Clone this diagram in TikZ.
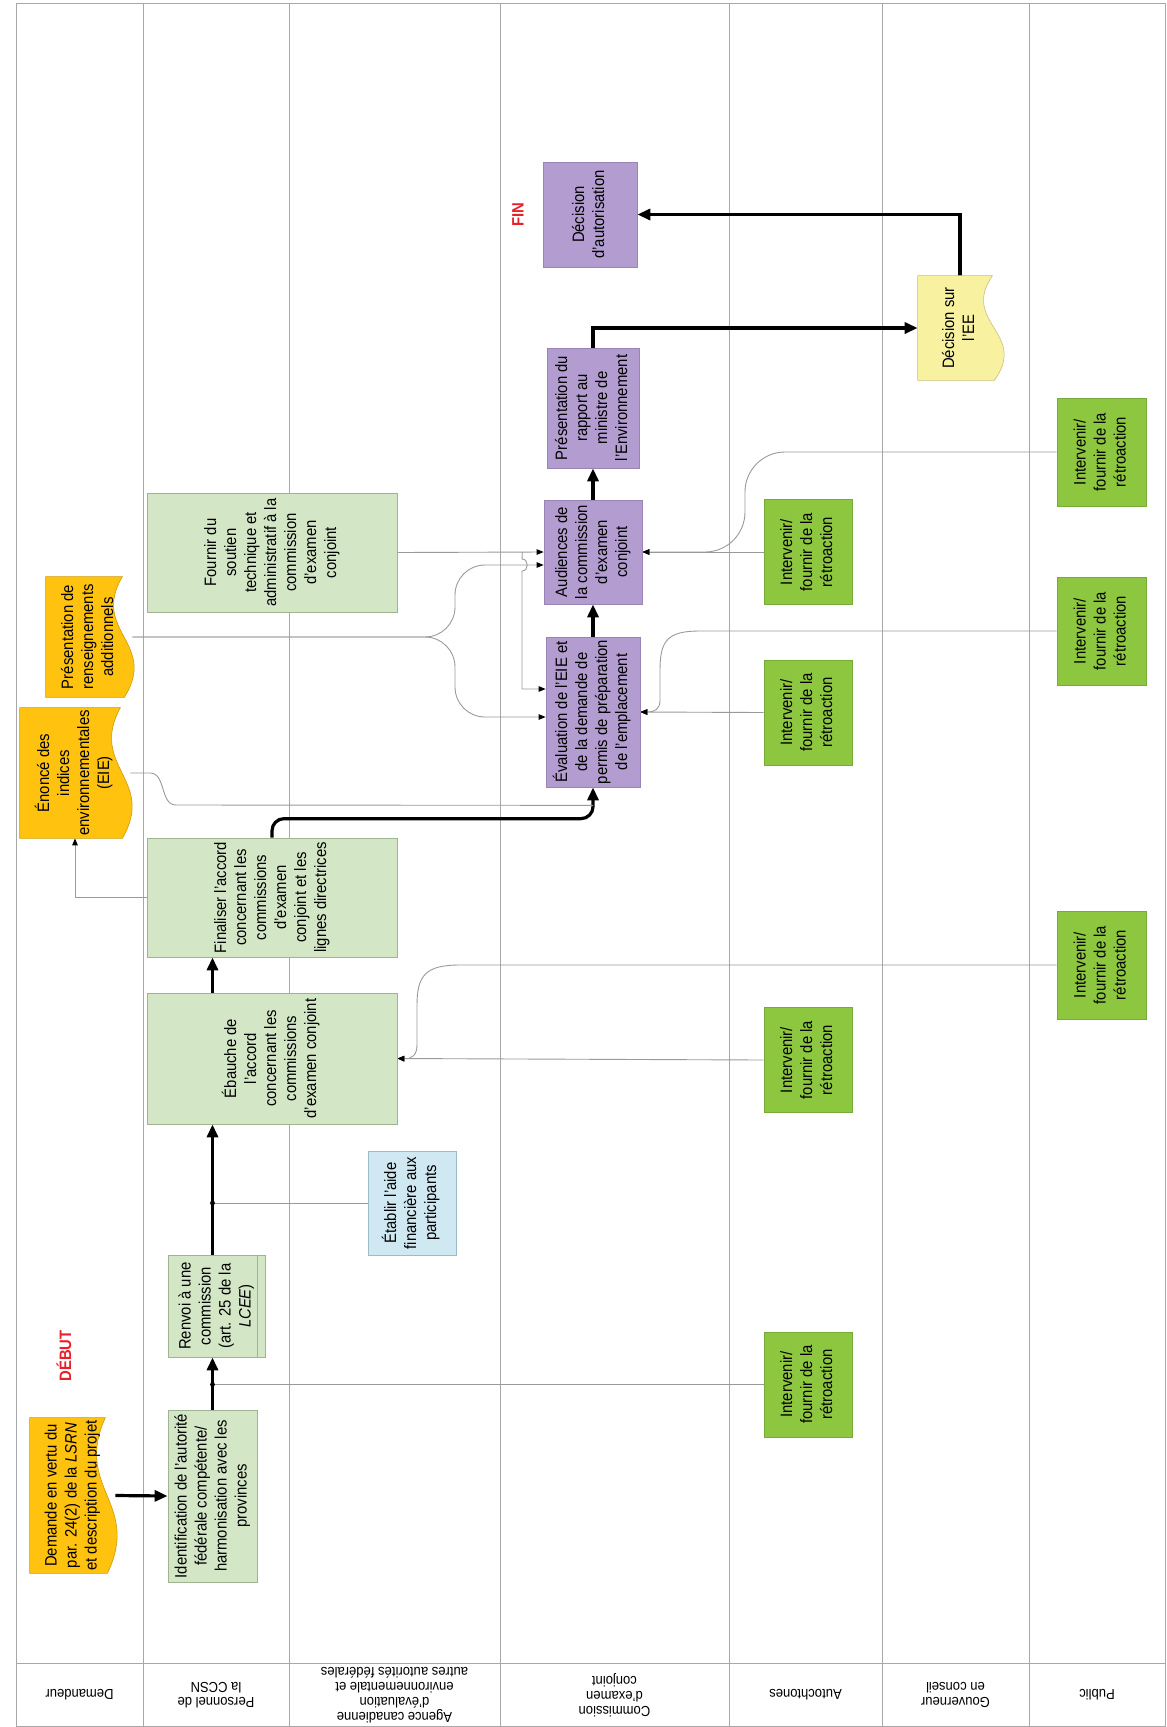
\documentclass[tikz,border=0pt]{standalone}
\usepackage{fontspec}
\setmainfont{Liberation Sans}[FakeStretch=0.9]
\usetikzlibrary{arrows.meta,calc,positioning}

\definecolor{ccsn}{HTML}{D3E7C6}
\definecolor{ccsnline}{HTML}{9FB592}
\definecolor{retro}{HTML}{8DC63F}
\definecolor{retroline}{HTML}{78AA3A}
\definecolor{cec}{HTML}{B39CCF}
\definecolor{cecline}{HTML}{9A84B5}
\definecolor{docor}{HTML}{FFC20E}
\definecolor{docyel}{HTML}{F8F1A0}
\definecolor{aide}{HTML}{CFE8F1}
\definecolor{aideline}{HTML}{9CBCC8}
\definecolor{laneclr}{HTML}{A8A8A8}
\definecolor{connclr}{HTML}{9A9A9A}
\definecolor{debut}{HTML}{E8202A}

\pgfdeclarelayer{background}
\pgfdeclarelayer{shapes}
\pgfsetlayers{background,shapes,main}

\newcommand{\vtxt}[1]{\rotatebox{90}{\begin{tabular}{@{}c@{}}#1\end{tabular}}}
\newcommand{\docwave}[2]{%
  \begin{pgfonlayer}{shapes}
  \filldraw[fill=#2, draw=#2!80!black, line width=0.6pt]
    (#1.north west) -- ($(#1.north east)+(-10,0)$)
    .. controls ($(#1.north east)!0.45!(#1.south east)+(-42,0)$) and ($(#1.north east)!0.55!(#1.south east)+(26,0)$) .. ($(#1.south east)+(-8,0)$)
    -- (#1.south west) -- cycle;
  \end{pgfonlayer}}

\tikzstyle{basebox} = [rectangle, inner sep=0pt, line width=0.7pt, font=\fontsize{16.5}{20}\selectfont]
\tikzstyle{ccsnbox} = [basebox, fill=ccsn, draw=ccsnline]
\tikzstyle{retrobox} = [basebox, fill=retro, draw=retroline, minimum width=88, minimum height=105]
\tikzstyle{pubbox} = [retrobox, minimum width=89, minimum height=108]
\tikzstyle{cecbox} = [basebox, fill=cec, draw=cecline]
\tikzstyle{aidebox} = [basebox, fill=aide, draw=aideline]
\tikzstyle{laneline} = [draw=laneclr, line width=0.8pt]
\tikzstyle{flow} = [line width=3.2pt, -{Triangle[length=13pt,width=11pt]}]
\tikzstyle{fb} = [draw=connclr, line width=0.9pt, -{Triangle[length=7pt,width=5.5pt,color=black]}]
\tikzstyle{lanelabel} = [rotate=180, align=center, inner sep=0pt, font=\fontsize{14.5}{15.2}\selectfont]
\tikzstyle{startend} = [rotate=90, text=debut, font=\fontsize{16.5}{20}\selectfont\bfseries]

\begin{document}
\begin{tikzpicture}[x=1pt,y=-1pt]
    \useasboundingbox (0,0) rectangle (1167,1727);

    \node (demande) [basebox, minimum width=85, minimum height=155] at (72.5,1495.5) {\vtxt{Demande en vertu du\\par. 24(2) de la \textit{LSRN}\\et description du projet}};
    \node (enonce) [basebox, minimum width=110, minimum height=130] at (75,773) {\vtxt{Énoncé des\\indices\\environnementales\\(EIE)}};
    \node (presdoc) [basebox, minimum width=86, minimum height=120] at (89,637) {\vtxt{Présentation de\\renseignements\\additionnels}};
    \node (debut) [startend] at (64,1356) {DÉBUT};

    \node (ident) [ccsnbox, minimum width=89, minimum height=172] at (212.5,1496) {\vtxt{Identification de l'autorité\\fédérale compétente/\\harmonisation avec les\\provinces}};
    \node (renvoi) [ccsnbox, minimum width=97, minimum height=102] at (216.5,1306) {\vtxt{Renvoi à une\\commission\\(art. 25 de la\\\textit{LCEE})}};
    \node (ebauche) [ccsnbox, minimum width=250, minimum height=131] at (272,1058.5) {\vtxt{Ébauche de\\l'accord\\concernant les\\commissions\\d'examen conjoint}};
    \node (final) [ccsnbox, minimum width=250, minimum height=119] at (272,897.5) {\vtxt{Finaliser l'accord\\concernant les\\commissions\\d'examen\\conjoint et les\\lignes directrices}};
    \node (fournir) [ccsnbox, minimum width=250, minimum height=119] at (272,552.5) {\vtxt{Fournir du\\soutien\\technique et\\administratif à la\\commission\\d'examen\\conjoint}};
    \node (etablir) [aidebox, minimum width=88, minimum height=104] at (412,1203) {\vtxt{Établir l'aide\\financière aux\\participants}};

    \node (eval) [cecbox, minimum width=94, minimum height=150] at (593,712) {\vtxt{Évaluation de l'EIE et\\de la demande de\\permis de préparation\\de l'emplacement}};
    \node (aud) [cecbox, minimum width=98, minimum height=104] at (593,552) {\vtxt{Audiences de\\la commission\\d'examen\\conjoint}};
    \node (rapport) [cecbox, minimum width=92, minimum height=120] at (593,408) {\vtxt{Présentation du\\rapport au\\ministre de\\l'Environnement}};
    \node (decaut) [cecbox, minimum width=94, minimum height=105] at (590,214.5) {\vtxt{Décision\\d'autorisation}};
    \node (fin) [startend] at (518,215) {FIN};

    \node (auta) [retrobox] at (808,1384.5) {\vtxt{Intervenir/\\fournir de la\\rétroaction}};
    \node (autb) [retrobox] at (808,1060) {\vtxt{Intervenir/\\fournir de la\\rétroaction}};
    \node (autc) [retrobox] at (808,712.5) {\vtxt{Intervenir/\\fournir de la\\rétroaction}};
    \node (autd) [retrobox] at (808,552) {\vtxt{Intervenir/\\fournir de la\\rétroaction}};

    \node (decee) [basebox, minimum width=84, minimum height=104] at (960,328) {\vtxt{Décision sur\\l'EE}};

    \node (pube) [pubbox] at (1101.5,965) {\vtxt{Intervenir/\\fournir de la\\rétroaction}};
    \node (pubf) [pubbox] at (1101.5,631) {\vtxt{Intervenir/\\fournir de la\\rétroaction}};
    \node (pubg) [pubbox] at (1101.5,452) {\vtxt{Intervenir/\\fournir de la\\rétroaction}};

    \docwave{demande}{docor}
    \docwave{enonce}{docor}
    \docwave{presdoc}{docor}
    \docwave{decee}{docyel}
    \draw [ccsnline, line width=0.7pt] ($(renvoi.north east)+(-8,0)$) -- ($(renvoi.south east)+(-8,0)$);

    \node (lDem) [lanelabel] at (79.5,1695) {Demandeur};
    \node (lCcsn) [lanelabel] at (216,1695) {Personnel de\\la CCSN};
    \node (lAg) [lanelabel] at (394.5,1695) {Agence canadienne\\d'évaluation\\environnementale et\\autres autorités fédérales};
    \node (lCec) [lanelabel] at (614.5,1695) {Commission\\d'examen\\conjoint};
    \node (lAut) [lanelabel] at (805.5,1695) {Autochtones};
    \node (lGc) [lanelabel] at (955.5,1695) {Gouverneur\\en conseil};
    \node (lPub) [lanelabel] at (1097,1695) {Public};

    \begin{pgfonlayer}{background}
        \draw [laneline] (16,3) rectangle (1165,1726);
        \draw [laneline] (16,1663) -- (1165,1663);
        \foreach \x in {143,289,500,729,882,1029}
            \draw [laneline] (\x,3) -- (\x,1726);

        \draw [flow] (demande.east) -- (ident.west);
        \draw [flow] (ident.north) -- (ident.north |- renvoi.south);
        \draw [flow] (ident.north |- renvoi.north) -- (ident.north |- ebauche.south);
        \draw [flow] (ident.north |- ebauche.north) -- (ident.north |- final.south);
        \draw [flow, rounded corners=12] (final.north) -- ++(0,-19) -| (eval.south);
        \draw [flow] (eval.north) -- (aud.south);
        \draw [flow] (aud.north) -- (rapport.south);
        \draw [flow] (rapport.north) |- (decee.west);
        \draw [flow] (decee.north) |- (decaut.east);

        \draw [fb, -] (auta.west) -- (ident.north |- auta.west);
        \draw [fb, -] (etablir.west) -- (ident.north |- etablir.west);
        \draw [fb] (final.west) -| (enonce.south);
        \draw [fb, -] (enonce.east) -- (150,773) to[out=0,in=180] (176,805) -- ($(eval.south)+(0,18)$);
        \draw [fb] (fournir.east) -- (aud.west);
        \draw [fb] ($(fournir.east)+(125,0)$) -- (522,559) .. controls (529,559) and (529,571) .. (522,571) |- ($(eval.west)+(0,-23)$);
        \draw [fb, rounded corners=30] (presdoc.east) -| (455,565) -- ($(aud.west)+(0,13)$);
        \draw [fb, rounded corners=30] (presdoc.east) -| (455,717) -- ($(eval.west)+(0,5)$);

        \draw [fb] (autd.west) -- (aud.east);
        \draw [fb, rounded corners=40] (pubg.west) -| (745,552) -- (aud.east);
        \draw [fb] (autc.west) -- (eval.east);
        \draw [fb] (pubf.west) -- (700,631) .. controls (668,631) and (660,640) .. (660,670) -- (660,700) .. controls (660,709) and (655,712) .. (eval.east);
        \draw [fb] (autb.west) -- (ebauche.east);
        \draw [fb] (pube.west) -- (460,965) .. controls (426,965) and (417,975) .. (417,1005) -- (417,1045) .. controls (417,1055) and (412,1059) .. (ebauche.east);
    \end{pgfonlayer}

    \fill (ident.north |- auta.west) circle[radius=2.4pt];
    \fill (ident.north |- etablir.west) circle[radius=2.4pt];
\end{tikzpicture}
\end{document}
